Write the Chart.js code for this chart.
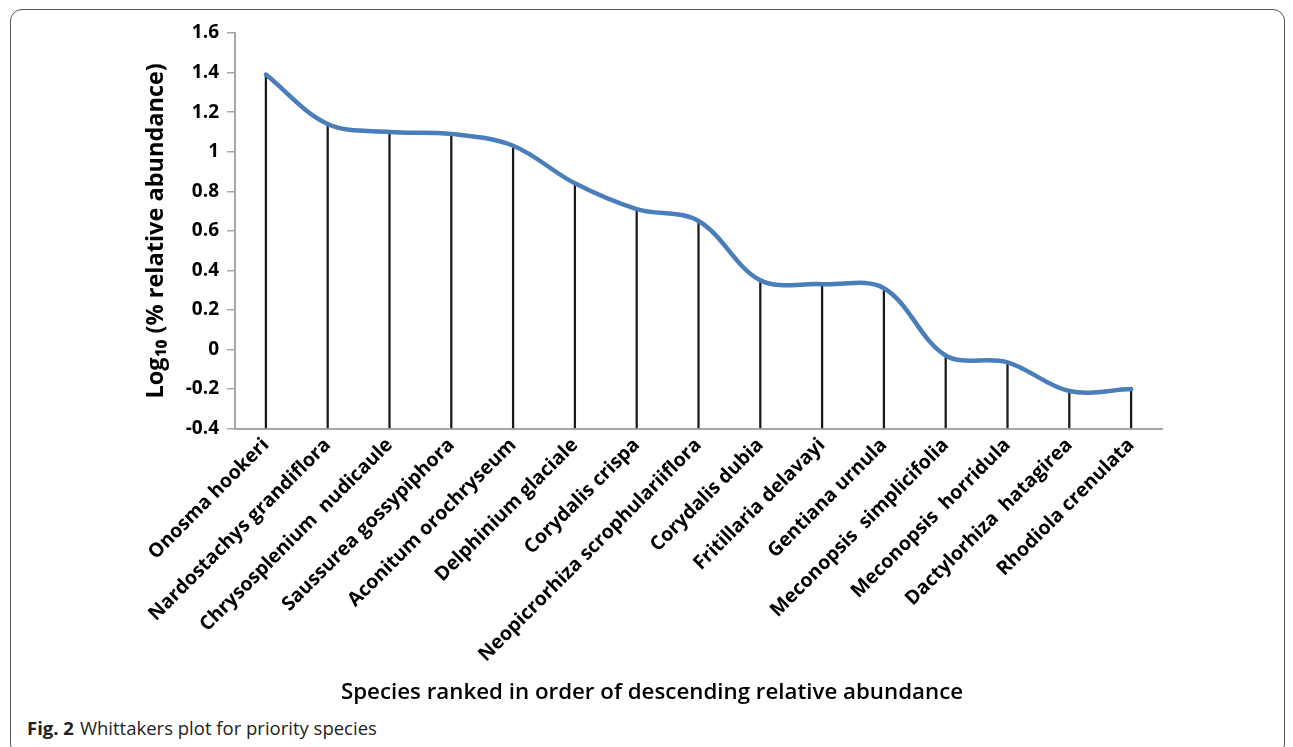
<!DOCTYPE html>
<html>
<head>
<meta charset="utf-8">
<script src="https://cdn.jsdelivr.net/npm/chart.js@4.4.0/dist/chart.umd.min.js"></script>
<style>
  html, body { margin: 0; padding: 0; background: #fff; }
  body { width: 1293px; height: 747px; position: relative; overflow: hidden; }
  .frame {
    position: absolute; left: 10px; top: 9px; width: 1273px; height: 745px;
    border: 1.3px solid #555; border-radius: 12px;
  }
  #wrap { position: absolute; left: 0; top: 0; width: 1293px; height: 715px; }
  .caption {
    position: absolute; left: 27px; top: 718px; line-height: 20px;
    font-family: "Liberation Sans Narrow", "Open Sans", sans-serif; font-size: 18.5px; color: #222;
  }
  .caption b { margin-right: 6px; }
</style>
</head>
<body>
<div class="frame"></div>
<div id="wrap"><canvas id="chart"></canvas></div>
<div class="caption"><b>Fig. 2</b>Whittakers plot for priority species</div>
<script>
// species in rank order
const species = [
  "Onosma hookeri",
  "Nardostachys grandiflora",
  "Chrysosplenium  nudicaule",
  "Saussurea gossypiphora",
  "Aconitum orochryseum",
  "Delphinium glaciale",
  "Corydalis crispa",
  "Neopicrorhiza scrophulariiflora",
  "Corydalis dubia",
  "Fritillaria delavayi",
  "Gentiana urnula",
  "Meconopsis  simplicifolia",
  "Meconopsis  horridula",
  "Dactylorhiza  hatagirea",
  "Rhodiola crenulata",
];

// log10 of % relative abundance
const logAbundance = [1.39, 1.14, 1.10, 1.09, 1.03, 0.84, 0.71, 0.65, 0.35, 0.33, 0.31, -0.03, -0.065, -0.21, -0.20];

const yMin = -0.4;
const yMax = 1.6;

const ctx = document.getElementById("chart");

new Chart(ctx, {
  data: {
    labels: species,
    datasets: [
      {
        // smoothed Whittaker curve
        type: "line",
        data: logAbundance,
        borderColor: "#4a7ebb",
        borderWidth: 4.5,
        borderCapStyle: "round",
        tension: 0.35,
        pointRadius: 0,
        order: 0,
      },
      {
        // drop lines down to the axis
        type: "bar",
        data: logAbundance,
        base: yMin,
        backgroundColor: "#1a1a1a",
        barThickness: 1.6,
        grouped: false,
        order: 1,
      },
    ],
  },
  options: {
    responsive: true,
    maintainAspectRatio: false,
    animation: false,
    layout: { padding: { left: 142, right: 131, top: 33, bottom: 7 } },
    plugins: {
      legend: { display: false },
      tooltip: { enabled: false },
      title: {
        display: true,
        position: "bottom",
        text: "Species ranked in order of descending relative abundance",
        color: "#000",
        font: { family: "Open Sans", weight: "600", size: 22.3, lineHeight: 1.2 },
        padding: { top: 0, bottom: 2 },
      },
    },
    scales: {
      x: {
        offset: true,
        grid: { display: true, drawOnChartArea: false, drawTicks: false, color: "rgba(0,0,0,0)" },
        border: { display: true, color: "#a6a6a6", width: 2 },
        ticks: {
          minRotation: 45,
          maxRotation: 45,
          autoSkip: false,
          padding: 5,
          color: "#000",
          font: { family: "Open Sans", weight: "bold", size: 19.5 },
        },
        afterFit: (scale) => { scale.height = 250.6; },
      },
      y: {
        min: yMin,
        max: yMax,
        grid: { display: true, drawOnChartArea: false, drawTicks: true, tickLength: 8, color: "#a6a6a6", lineWidth: 1.5 },
        border: { display: true, color: "#a6a6a6", width: 2 },
        ticks: {
          stepSize: 0.2,
          padding: 8,
          color: "#000",
          font: { family: "Open Sans", weight: "bold", size: 19 },
          callback: (v) => Math.round(v * 10) / 10,
        },
        title: {
          display: true,
          text: "Log\u2081\u2080 (% relative abundance)",
          color: "#000",
          font: { family: "Open Sans", weight: "bold", size: 23.5 },
          padding: { top: 0, bottom: 4 },
        },
        afterFit: (scale) => { scale.width = 93; },
      },
    },
  },
});
</script>
</body>
</html>
